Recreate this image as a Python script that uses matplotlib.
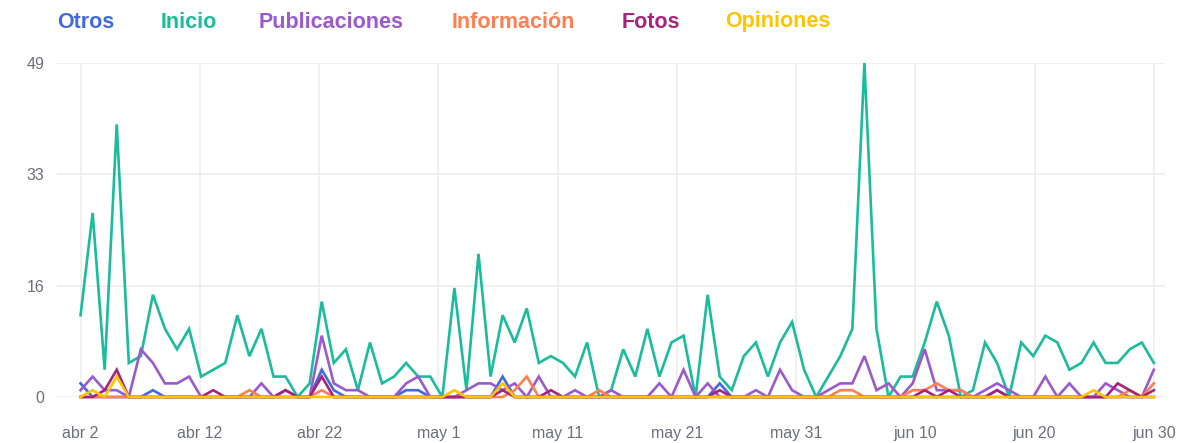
import numpy as np
import matplotlib
matplotlib.use("Agg")
import matplotlib.pyplot as plt

plt.rcParams['font.family'] = ['Liberation Sans', 'DejaVu Sans']

# daily visits, abr 2 .. jun 30 (90 points)
tick_labels = ["abr 2", "abr 12", "abr 22", "may 1", "may 11",
               "may 21", "may 31", "jun 10", "jun 20", "jun 30"]
y_tick_labels = ["0", "16", "33", "49"]

otros = [2, 0, 0, 0, 0, 0, 1, 0, 0, 0, 0, 0, 0, 0, 0, 0, 0, 0, 0, 0,
         4, 1, 0, 0, 0, 0, 0, 1, 1, 0, 0, 0, 0, 0, 0, 3, 0, 0, 0, 0,
         0, 0, 0, 0, 0, 0, 0, 0, 0, 0, 0, 0, 0, 2, 0, 0, 0, 0, 0, 0,
         0, 0, 0, 0, 0, 0, 0, 0, 0, 0, 0, 0, 0, 0, 0, 0, 1, 0, 0, 0,
         0, 0, 0, 0, 0, 0, 0, 0, 0, 0]
inicio = [12, 27, 4, 40, 5, 6, 15, 10, 7, 10, 3, 4, 5, 12, 6, 10, 3, 3, 0, 2,
          14, 5, 7, 1, 8, 2, 3, 5, 3, 3, 0, 16, 1, 21, 3, 12, 8, 13, 5, 6,
          5, 3, 8, 0, 1, 7, 3, 10, 3, 8, 9, 0, 15, 3, 1, 6, 8, 3, 8, 11,
          4, 0, 3, 6, 10, 49, 10, 0, 3, 3, 8, 14, 9, 0, 1, 8, 5, 0, 8, 6,
          9, 8, 4, 5, 8, 5, 5, 7, 8, 5]
publicaciones = [1, 3, 1, 1, 0, 7, 5, 2, 2, 3, 0, 0, 0, 0, 0, 2, 0, 1, 0, 0,
                 9, 2, 1, 1, 0, 0, 0, 2, 3, 0, 0, 0, 1, 2, 2, 1, 2, 0, 3, 0,
                 0, 1, 0, 0, 1, 0, 0, 0, 2, 0, 4, 0, 2, 0, 0, 0, 1, 0, 4, 1,
                 0, 0, 1, 2, 2, 6, 1, 2, 0, 2, 7, 1, 1, 1, 0, 1, 2, 1, 0, 0,
                 3, 0, 2, 0, 0, 2, 1, 0, 0, 4]
informacion = [0, 0, 0, 0, 0, 0, 0, 0, 0, 0, 0, 0, 0, 0, 1, 0, 0, 0, 0, 0,
               1, 0, 0, 0, 0, 0, 0, 0, 0, 0, 0, 0, 0, 0, 0, 0, 1, 3, 0, 0,
               0, 0, 0, 1, 0, 0, 0, 0, 0, 0, 0, 0, 0, 0, 0, 0, 0, 0, 0, 0,
               0, 0, 0, 1, 1, 0, 0, 0, 0, 1, 1, 2, 1, 1, 0, 0, 0, 0, 0, 0,
               0, 0, 0, 0, 0, 0, 0, 1, 0, 2]
fotos = [0, 0, 1, 4, 0, 0, 0, 0, 0, 0, 0, 1, 0, 0, 0, 0, 0, 1, 0, 0,
         3, 0, 0, 0, 0, 0, 0, 0, 0, 0, 0, 0, 0, 0, 0, 1, 0, 0, 0, 1,
         0, 0, 0, 0, 0, 0, 0, 0, 0, 0, 0, 0, 0, 1, 0, 0, 0, 0, 0, 0,
         0, 0, 0, 0, 0, 0, 0, 0, 0, 0, 1, 0, 1, 0, 0, 0, 1, 0, 0, 0,
         0, 0, 0, 0, 0, 0, 2, 1, 0, 1]
opiniones = [0, 1, 0, 3, 0, 0, 0, 0, 0, 0, 0, 0, 0, 0, 0, 0, 0, 0, 0, 0,
             0, 0, 0, 0, 0, 0, 0, 0, 0, 0, 0, 1, 0, 0, 0, 2, 0, 0, 0, 0,
             0, 0, 0, 0, 0, 0, 0, 0, 0, 0, 0, 0, 0, 0, 0, 0, 0, 0, 0, 0,
             0, 0, 0, 0, 0, 0, 0, 0, 0, 0, 0, 0, 0, 0, 0, 0, 0, 0, 0, 0,
             0, 0, 0, 0, 1, 0, 0, 0, 0, 0]

series = [("Otros", otros, "#4169e1"),
          ("Inicio", inicio, "#1abc9c"),
          ("Publicaciones", publicaciones, "#9b59d0"),
          ("Información", informacion, "#ff7f50"),
          ("Fotos", fotos, "#a5247f"),
          ("Opiniones", opiniones, "#ffc300")]

fig = plt.figure(figsize=(11.81, 4.43), dpi=100)
ax = fig.add_axes([0.0483, 0.1038, 0.9382, 0.754])

x = np.arange(len(inicio))
for name, vals, col in series:
    ax.plot(x, vals, color=col, lw=1.9, clip_on=False, solid_joinstyle='miter')

ax.set_xlim(-1.95, 89.93)
ax.set_ylim(0, 49)
ax.set_xticks(np.linspace(0, len(x) - 1, len(tick_labels)))
ax.set_xticklabels(tick_labels)
ax.set_yticks(np.linspace(0, 49, 4))
ax.set_yticklabels(y_tick_labels)
ax.grid(True, color="#eeeeee", lw=1.2)
ax.set_axisbelow(True)
for s in ax.spines.values():
    s.set_visible(False)
ax.tick_params(axis='x', length=0, pad=21, labelsize=11.5, labelcolor="#6b7079")
ax.tick_params(axis='y', length=0, pad=9, labelsize=11.5, labelcolor="#6b7079")

# legend as coloured labels across the top
legend_x = [57, 161, 259, 452, 622, 725]
for (name, vals, col), lx in zip(series, legend_x):
    fig.text(lx / 1181, 1 - 22 / 443, name, color=col, fontsize=15.5,
             fontweight='bold', ha='left', va='center')

fig.savefig("out.png", dpi=100)
